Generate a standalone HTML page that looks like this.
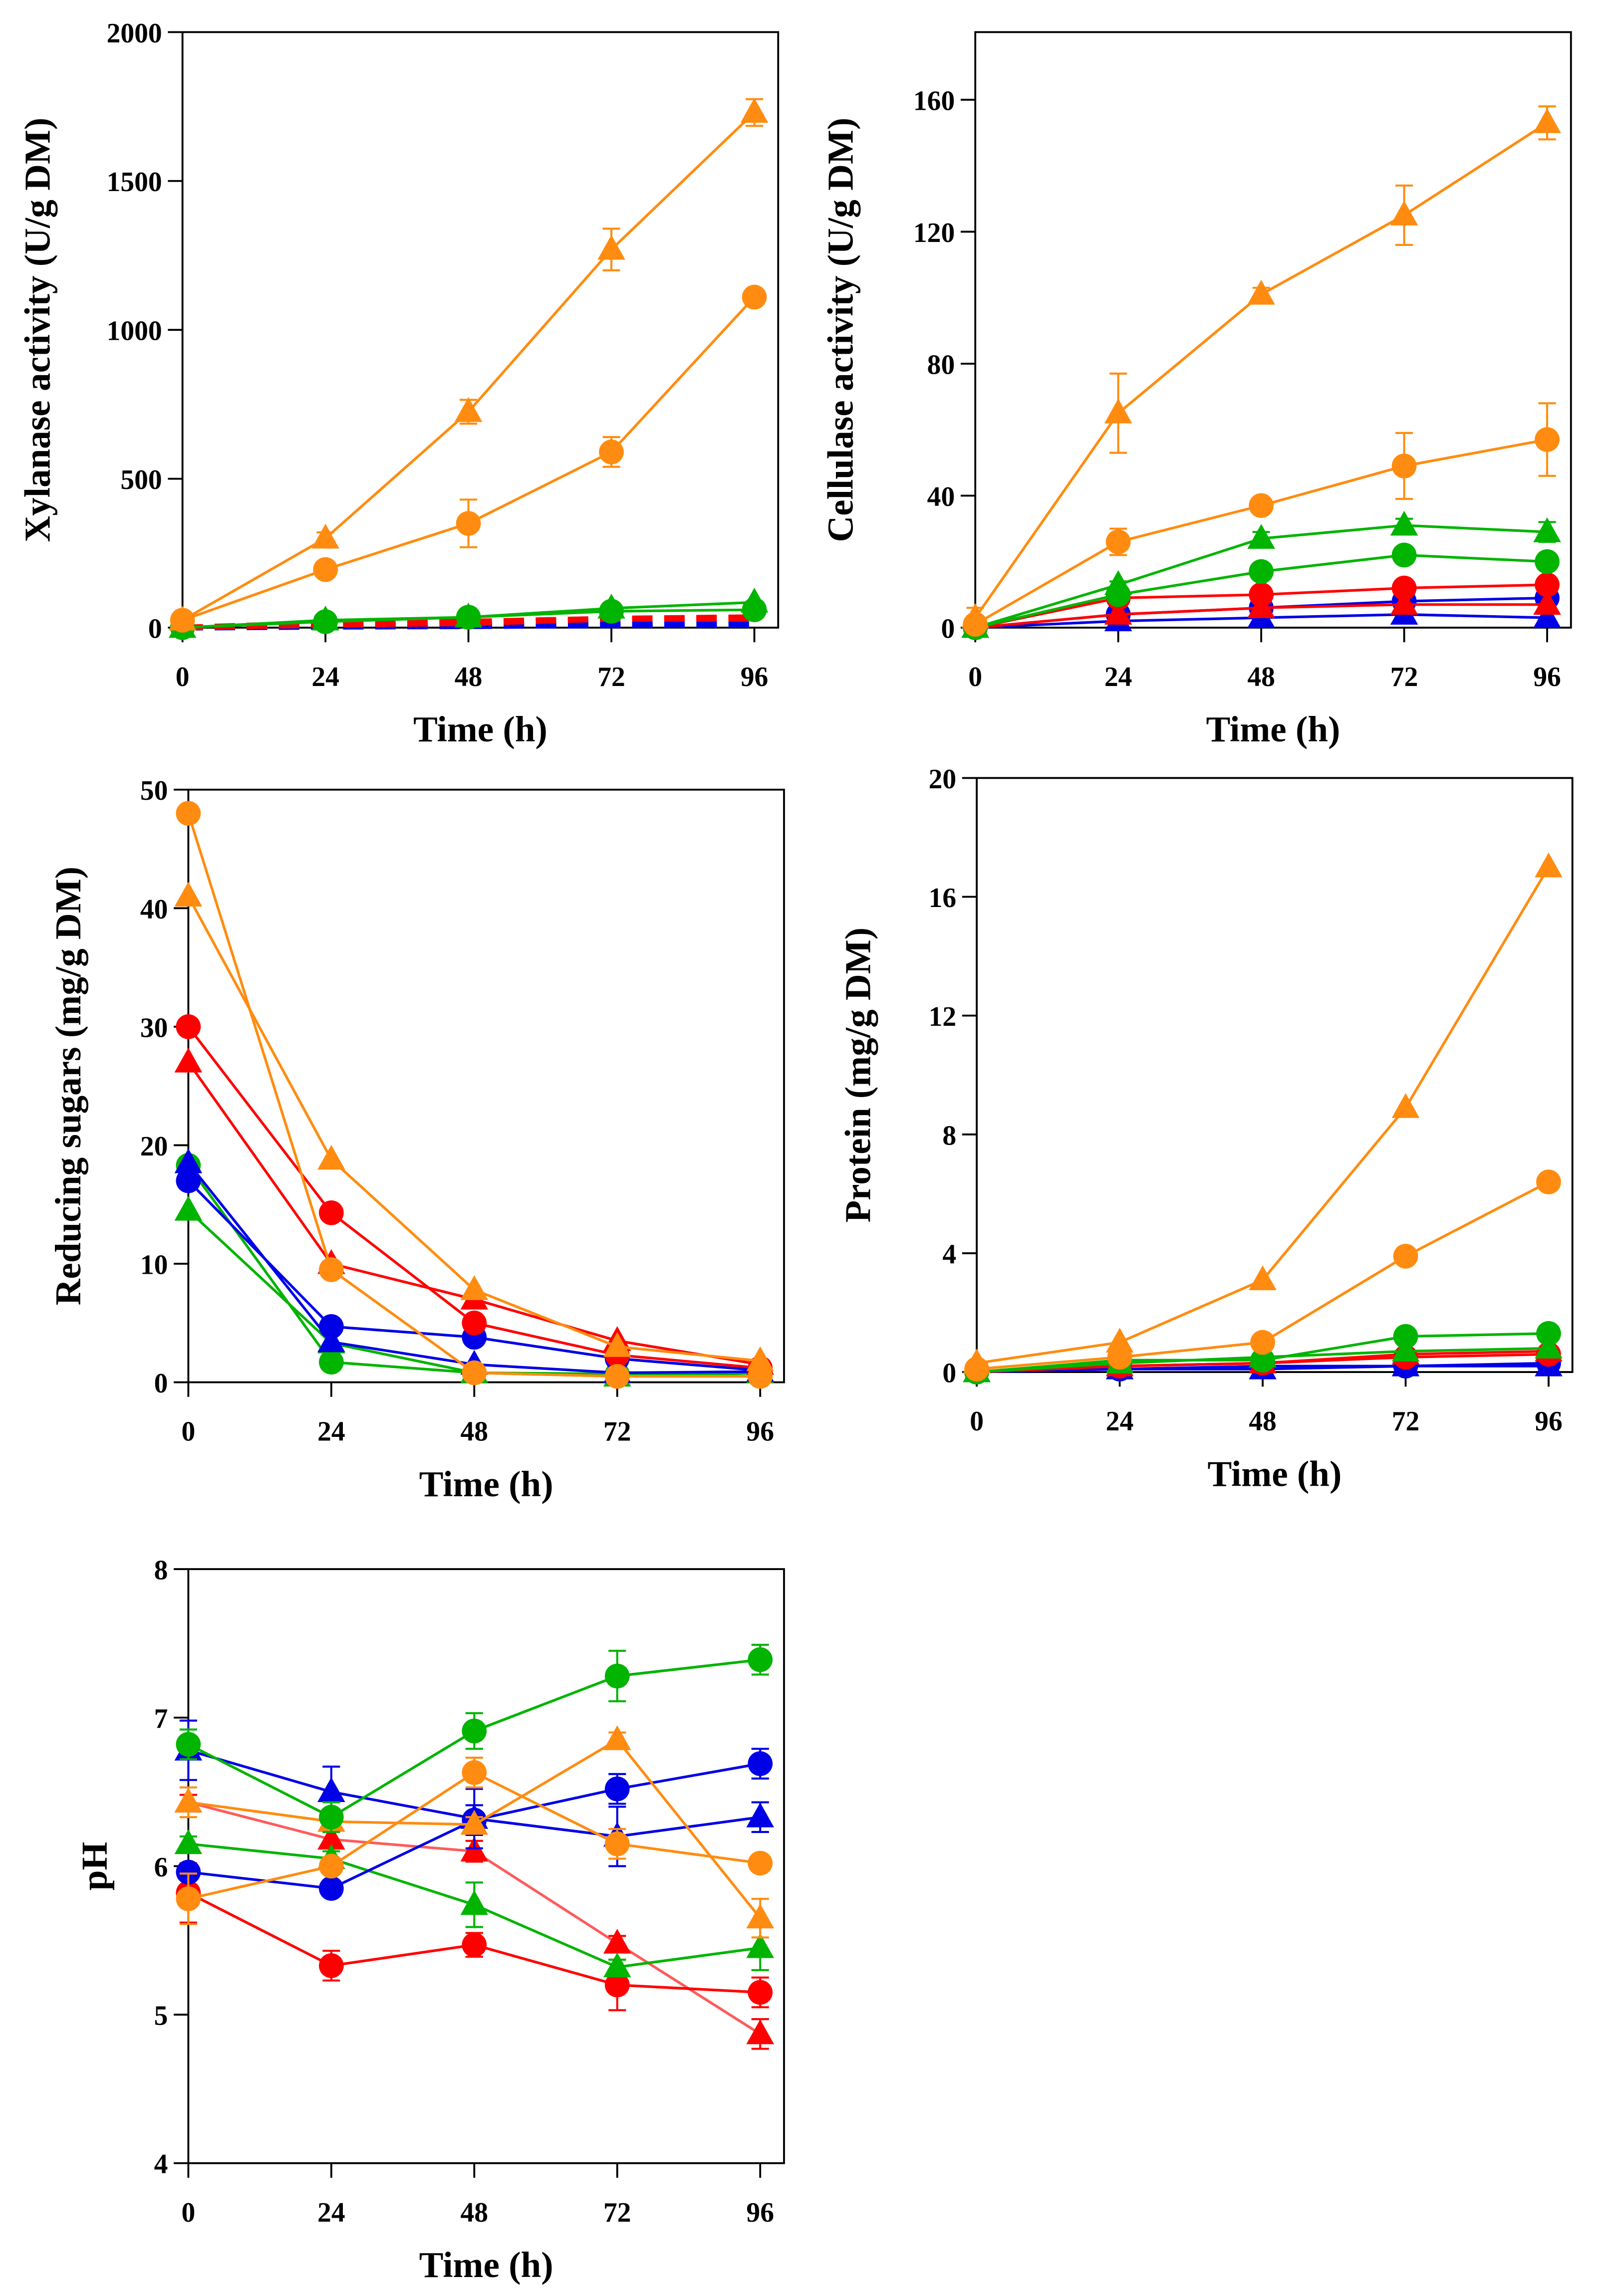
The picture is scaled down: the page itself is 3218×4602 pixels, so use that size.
<!DOCTYPE html>
<html><head><meta charset="utf-8"><style>
html,body{margin:0;padding:0;background:#fff;}
svg{display:block;}
text{font-family:"Liberation Serif",serif;font-weight:bold;fill:#000;}
</style></head><body>
<svg id="fig" width="3218" height="4602" viewBox="0 0 1100 1573" preserveAspectRatio="none" xmlns="http://www.w3.org/2000/svg"></svg>
<script>
const times = [0, 24, 48, 72, 96];
const xTicks = ["0","24","48","72","96"];

// Panel A: xylanase
const xylTicks = [0, 500, 1000, 1500, 2000];
const xylOrangeTri = [25, 300, 725, 1270, 1730];
const xylOrangeTriErr = [0, 20, 40, 70, 45];
const xylOrangeCirc = [25, 195, 350, 590, 1110];
const xylOrangeCircErr = [0, 20, 80, 50, 15];
const xylGreenTri = [0, 25, 35, 65, 85];
const xylGreenCirc = [0, 20, 35, 55, 60];
const xylRedTri = [0, 10, 15, 30, 30];
const xylRedCirc = [0, 15, 20, 30, 35];
const xylBlueTri = [0, 3, 5, 8, 10];
const xylBlueCirc = [0, 5, 8, 12, 15];

// Panel B: cellulase
const celTicks = [0, 40, 80, 120, 160];
const celOrangeTri = [3, 65, 101, 125, 153];
const celOrangeTriErr = [3, 12, 2, 9, 5];
const celOrangeCirc = [1, 26, 37, 49, 57];
const celOrangeCircErr = [0, 4, 1, 10, 11];
const celGreenTri = [0, 13, 27, 31, 29];
const celGreenTriErr = [0, 1, 2, 2, 3];
const celGreenCirc = [0, 10, 17, 22, 20];
const celRedCirc = [0, 9, 10, 12, 13];
const celRedTri = [0, 4, 6, 7, 7];
const celBlueCirc = [0, 4, 6, 8, 9];
const celBlueTri = [0, 2, 3, 4, 3];

// Panel C: reducing sugars
const rsTicks = [0, 10, 20, 30, 40, 50];
const rsOrangeCirc = [48, 9.5, 0.8, 0.5, 0.5];
const rsOrangeTri = [41, 18.8, 7.8, 3, 1.8];
const rsRedCirc = [30, 14.3, 5, 2.3, 1.2];
const rsRedTri = [27, 10, 7, 3.5, 1.5];
const rsBlueCirc = [17, 4.7, 3.8, 2, 1];
const rsBlueTri = [18.5, 3.4, 1.5, 0.8, 0.9];
const rsGreenCirc = [18.3, 1.7, 0.8, 0.7, 0.5];
const rsGreenTri = [14.5, 3.3, 0.8, 0.5, 0.8];

// Panel D: protein
const prTicks = [0, 4, 8, 12, 16, 20];
const prOrangeTri = [0.3, 1.0, 3.1, 8.9, 17.0];
const prOrangeCirc = [0.1, 0.5, 1.0, 3.9, 6.4];
const prGreenCirc = [0, 0.4, 0.4, 1.2, 1.3];
const prGreenTri = [0, 0.3, 0.5, 0.7, 0.8];
const prRedCirc = [0, 0.2, 0.3, 0.5, 0.6];
const prRedTri = [0, 0.2, 0.3, 0.6, 0.7];
const prBlueCirc = [0, 0.1, 0.2, 0.2, 0.3];
const prBlueTri = [0, 0.1, 0.1, 0.2, 0.2];

// Panel E: pH
const phTicks = [4, 5, 6, 7, 8];
const phGreenCirc = [6.82, 6.33, 6.91, 7.28, 7.39];
const phGreenCircErr = [0.1, 0.1, 0.12, 0.17, 0.1];
const phBlueTri = [6.78, 6.5, 6.32, 6.2, 6.33];
const phBlueTriErr = [0.2, 0.17, 0.2, 0.2, 0.1];
const phBlueCirc = [5.96, 5.85, 6.31, 6.52, 6.69];
const phBlueCircErr = [0.05, 0.05, 0.1, 0.1, 0.1];
const phOrangeTri = [6.43, 6.3, 6.28, 6.85, 5.65];
const phOrangeTriErr = [0.1, 0.05, 0.05, 0.05, 0.13];
const phOrangeCirc = [5.78, 6.0, 6.63, 6.15, 6.02];
const phOrangeCircErr = [0.17, 0.05, 0.1, 0.1, 0.05];
const phRedTri = [6.43, 6.18, 6.1, 5.48, 4.87];
const phRedTriErr = [0.05, 0.05, 0.07, 0.05, 0.1];
const phRedCirc = [5.82, 5.33, 5.47, 5.2, 5.15];
const phRedCircErr = [0.2, 0.1, 0.08, 0.17, 0.1];
const phGreenTri = [6.15, 6.05, 5.74, 5.32, 5.45];
const phGreenTriErr = [0.05, 0.05, 0.15, 0.05, 0.15];

const OR = "#FF8C10", GR = "#00B400", RD = "#FF0000", BL = "#0000E6", LRD = "#FF5A5A";
const NS = "http://www.w3.org/2000/svg";
const svg = document.getElementById('fig');

function mk(tag, attrs, parent) {
  const e = document.createElementNS(NS, tag);
  for (const k in attrs) e.setAttribute(k, attrs[k]);
  (parent || svg).appendChild(e);
  return e;
}

function panel(cfg) {
  const g = mk('g', {});
  
  
  const {L, R, T, B, ymin, ymax} = cfg;
  const xs = v => L + (v / 100) * (R - L);
  const ys = v => B - (v - ymin) / (ymax - ymin) * (B - T);
  const box = mk('rect', {x: L, y: T, width: R - L, height: B - T, fill: 'none', stroke: '#000', 'stroke-width': 1.3}, g);
  
  
  cfg.yTicks.forEach(t => {
    const y = ys(t);
    const tk = mk('line', {x1: L - 10, x2: L, y1: y, y2: y, stroke: '#000', 'stroke-width': 1.3}, g);
    
    
    const tl = mk('text', {x: L - 14, y: y + 7, 'text-anchor': 'end', 'font-size': 19}, g);
    tl.textContent = String(t);
    
    
  });
  times.forEach((t, i) => {
    const x = xs(t);
    const tk = mk('line', {x1: x, x2: x, y1: B, y2: B + 10, stroke: '#000', 'stroke-width': 1.3}, g);
    
    
    const tl = mk('text', {x: x, y: B + 40, 'text-anchor': 'middle', 'font-size': 19}, g);
    tl.textContent = xTicks[i];
    
    
  });
  const xt = mk('text', {x: (L + R) / 2, y: B + 78, 'text-anchor': 'middle', 'font-size': 25}, g);
  xt.textContent = 'Time (h)';
  
  
  const yt = mk('text', {x: 0, y: 0, 'text-anchor': 'middle', 'font-size': 25, transform: `translate(${cfg.ytx},${(T + B) / 2}) rotate(-90)`}, g);
  yt.textContent = cfg.ytitle;
  
  

  cfg.series.forEach(s => {
    const sg = mk('g', {}, g);
    
    
    const pts = s.vals.map((v, i) => [xs(times[i]), ys(v)]);
    const pl = mk('polyline', {points: pts.map(p => p.join(',')).join(' '), fill: 'none', stroke: s.line || s.c, 'stroke-width': s.dash ? 4 : 1.8, 'stroke-dasharray': s.dash ? '14,8' : 'none'}, sg);
    
    
    if (s.err) s.err.forEach((e, i) => {
      if (!e) return;
      const x = pts[i][0], y1 = ys(s.vals[i] + e), y2 = ys(s.vals[i] - e);
      const eb = mk('path', {d: `M${x},${y1}V${y2}M${x - 6},${y1}H${x + 6}M${x - 6},${y2}H${x + 6}`, stroke: s.c, 'stroke-width': 1.4, fill: 'none'}, sg);
      
      
    });
    if (s.dash) return;
    pts.forEach(([x, y]) => {
      let m;
      if (s.m === 'c') m = mk('circle', {cx: x, cy: y, r: 8.5, fill: s.c}, sg);
      else m = mk('polygon', {points: `${x},${y - 10} ${x - 9.5},${y + 7} ${x + 9.5},${y + 7}`, fill: s.c}, sg);
      
      
    });
  });
}

panel({name: 'xylanase-chart', L: 125, R: 533, T: 22, B: 430, ymin: 0, ymax: 2000, yTicks: xylTicks, ytx: 34, ytitle: 'Xylanase activity (U/g DM)', series: [
  {name: 'blue-triangle-series', vals: xylBlueTri, c: BL, dash: true},
  {name: 'blue-circle-series', vals: xylBlueCirc, c: BL, dash: true},
  {name: 'red-triangle-series', vals: xylRedTri, c: RD, dash: true},
  {name: 'red-circle-series', vals: xylRedCirc, c: RD, dash: true},
  {name: 'green-triangle-series', vals: xylGreenTri, c: GR, m: 't'},
  {name: 'green-circle-series', vals: xylGreenCirc, c: GR, m: 'c'},
  {name: 'orange-circle-series', vals: xylOrangeCirc, c: OR, m: 'c', err: xylOrangeCircErr},
  {name: 'orange-triangle-series', vals: xylOrangeTri, c: OR, m: 't', err: xylOrangeTriErr}]});

panel({name: 'cellulase-chart', L: 668, R: 1076, T: 22, B: 430, ymin: 0, ymax: 180.5, yTicks: celTicks, ytx: 584, ytitle: 'Cellulase activity (U/g DM)', series: [
  {name: 'blue-triangle-series', vals: celBlueTri, c: BL, m: 't'},
  {name: 'blue-circle-series', vals: celBlueCirc, c: BL, m: 'c'},
  {name: 'red-triangle-series', vals: celRedTri, c: RD, m: 't'},
  {name: 'red-circle-series', vals: celRedCirc, c: RD, m: 'c'},
  {name: 'green-circle-series', vals: celGreenCirc, c: GR, m: 'c'},
  {name: 'green-triangle-series', vals: celGreenTri, c: GR, m: 't', err: celGreenTriErr},
  {name: 'orange-circle-series', vals: celOrangeCirc, c: OR, m: 'c', err: celOrangeCircErr},
  {name: 'orange-triangle-series', vals: celOrangeTri, c: OR, m: 't', err: celOrangeTriErr}]});

panel({name: 'reducing-sugars-chart', L: 129, R: 537, T: 541, B: 947, ymin: 0, ymax: 50, yTicks: rsTicks, ytx: 55, ytitle: 'Reducing sugars (mg/g DM)', series: [
  {name: 'green-triangle-series', vals: rsGreenTri, c: GR, m: 't'},
  {name: 'green-circle-series', vals: rsGreenCirc, c: GR, m: 'c'},
  {name: 'blue-triangle-series', vals: rsBlueTri, c: BL, m: 't'},
  {name: 'blue-circle-series', vals: rsBlueCirc, c: BL, m: 'c'},
  {name: 'red-triangle-series', vals: rsRedTri, c: RD, m: 't'},
  {name: 'red-circle-series', vals: rsRedCirc, c: RD, m: 'c'},
  {name: 'orange-triangle-series', vals: rsOrangeTri, c: OR, m: 't'},
  {name: 'orange-circle-series', vals: rsOrangeCirc, c: OR, m: 'c'}]});

panel({name: 'protein-chart', L: 669, R: 1077, T: 533, B: 940, ymin: 0, ymax: 20, yTicks: prTicks, ytx: 596, ytitle: 'Protein (mg/g DM)', series: [
  {name: 'blue-triangle-series', vals: prBlueTri, c: BL, m: 't'},
  {name: 'blue-circle-series', vals: prBlueCirc, c: BL, m: 'c'},
  {name: 'red-triangle-series', vals: prRedTri, c: RD, m: 't'},
  {name: 'red-circle-series', vals: prRedCirc, c: RD, m: 'c'},
  {name: 'green-triangle-series', vals: prGreenTri, c: GR, m: 't'},
  {name: 'green-circle-series', vals: prGreenCirc, c: GR, m: 'c'},
  {name: 'orange-circle-series', vals: prOrangeCirc, c: OR, m: 'c'},
  {name: 'orange-triangle-series', vals: prOrangeTri, c: OR, m: 't'}]});

panel({name: 'ph-chart', L: 129, R: 537, T: 1075, B: 1482, ymin: 4, ymax: 8, yTicks: phTicks, ytx: 73, ytitle: 'pH', series: [
  {name: 'red-triangle-series', vals: phRedTri, c: RD, line: LRD, m: 't', err: phRedTriErr},
  {name: 'red-circle-series', vals: phRedCirc, c: RD, m: 'c', err: phRedCircErr},
  {name: 'green-triangle-series', vals: phGreenTri, c: GR, m: 't', err: phGreenTriErr},
  {name: 'blue-circle-series', vals: phBlueCirc, c: BL, m: 'c', err: phBlueCircErr},
  {name: 'blue-triangle-series', vals: phBlueTri, c: BL, m: 't', err: phBlueTriErr},
  {name: 'orange-circle-series', vals: phOrangeCirc, c: OR, m: 'c', err: phOrangeCircErr},
  {name: 'orange-triangle-series', vals: phOrangeTri, c: OR, m: 't', err: phOrangeTriErr},
  {name: 'green-circle-series', vals: phGreenCirc, c: GR, m: 'c', err: phGreenCircErr}]});
</script>
</body></html>
